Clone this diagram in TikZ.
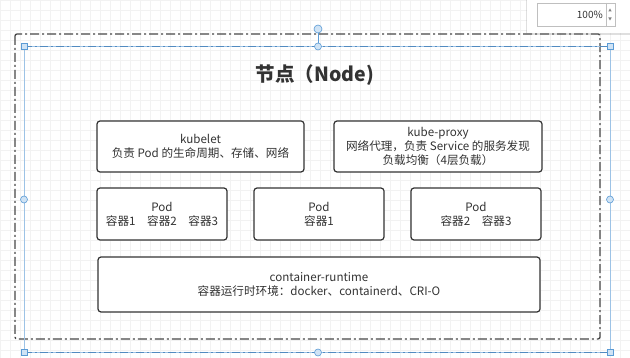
\documentclass[tikz,border=0pt]{standalone}
\usepackage{fontspec}
\newfontfamily\cjk{Noto Sans CJK SC}
\usetikzlibrary{shadows}
\definecolor{txt}{HTML}{333333}
\definecolor{selblue}{HTML}{5B9BD5}
\definecolor{handlefill}{HTML}{CFE3F5}
\tikzset{
  box/.style={draw=txt, rounded corners=3pt, line width=1.2pt, fill=white, text=txt,
    align=center, inner sep=0pt, font=\cjk\fontsize{11.6}{13.8}\selectfont},
  sqhandle/.style={draw=selblue, fill=handlefill, line width=0.6pt, minimum size=6pt, inner sep=0pt},
  cihandle/.style={circle, draw=selblue, fill=handlefill, line width=0.6pt, minimum size=7pt, inner sep=0pt},
  frame/.style={draw=txt!90, line width=1.3pt, rounded corners=2pt,
    dash pattern=on 9pt off 3pt on 2pt off 3pt}
}
\begin{document}
\begin{tikzpicture}[x=1pt,y=-1pt]
\useasboundingbox (0,0) rectangle (630,358);
\fill[white] (0,0) rectangle (630,358);
% grid
\draw[black!5, line width=0.5pt] (0,0) grid[step=10pt] (630,358);
% outer dash-dot frame
\draw[frame] (15,34) rectangle (600,339);
% selection rectangle
\draw[selblue!60, line width=0.8pt] (24,46.5) rectangle (610,352.5);
\draw[selblue!90!black, line width=0.9pt, dash pattern=on 8pt off 3pt on 2pt off 3pt] (24,46.5) -- (610,46.5);
\draw[selblue!90!black, line width=0.9pt, dash pattern=on 8pt off 3pt on 2pt off 3pt] (24,352.5) -- (610,352.5);
% title
\node[font=\cjk\bfseries\fontsize{19.5}{22}\selectfont, text=txt] (title) at (315,75) {节点（Node)};
% boxes
\node[box, minimum width=207pt, minimum height=51pt] (kubelet) at (200.5,146.5) {kubelet\\负责 Pod 的生命周期、存储、网络};
\node[box, minimum width=208pt, minimum height=51pt] (proxy) at (438,146.5) {kube-proxy\\网络代理，负责 Service 的服务发现\\负载均衡（4层负载）};
\node[box, minimum width=130pt, minimum height=52pt] (pod1) at (162,214) {Pod\\容器1\quad 容器2\quad 容器3};
\node[box, minimum width=130pt, minimum height=52pt] (pod2) at (319,214) {Pod\\容器1};
\node[box, minimum width=130pt, minimum height=52pt] (pod3) at (476,214) {Pod\\容器2\quad 容器3};
\node[box, minimum width=442pt, minimum height=55pt] (runtime) at (319,284.5) {container-runtime\\容器运行时环境：docker、containerd、CRI-O};
% handles
\coordinate (rot) at (318,29);
\coordinate (tm) at (318,46.5);
\draw[selblue, line width=0.8pt] (rot) -- (tm);
\node[cihandle, minimum size=8pt] (rh) at (rot) {};
\node[cihandle] (h1) at (tm) {};
\node[cihandle] (h2) at (318,352.5) {};
\node[cihandle] (h3) at (24,199.5) {};
\node[cihandle] (h4) at (610,199.5) {};
\node[sqhandle] (h5) at (24,46.5) {};
\node[sqhandle] (h6) at (610,46.5) {};
\node[sqhandle] (h7) at (24,352.5) {};
\node[sqhandle] (h8) at (610,352.5) {};
% zoom panel
\fill[white, drop shadow={shadow xshift=-1pt, shadow yshift=-2pt, opacity=0.25}] (527,-6) rectangle (636,33);
\draw[black!25, fill=white, line width=0.6pt] (537,3) rectangle (615,26);
\draw[black!25, line width=0.6pt] (606,3) -- (606,26);
\node[anchor=east, font=\cjk\fontsize{10}{12}\selectfont, text=txt, inner sep=0pt] (zoomtxt) at (603,14.5) {100\%};
\fill[black!50] (608.3,11.5) -- (611.7,11.5) -- (610,8.5) -- cycle;
\fill[black!50] (608.3,17.5) -- (611.7,17.5) -- (610,20.5) -- cycle;
\end{tikzpicture}
\end{document}
